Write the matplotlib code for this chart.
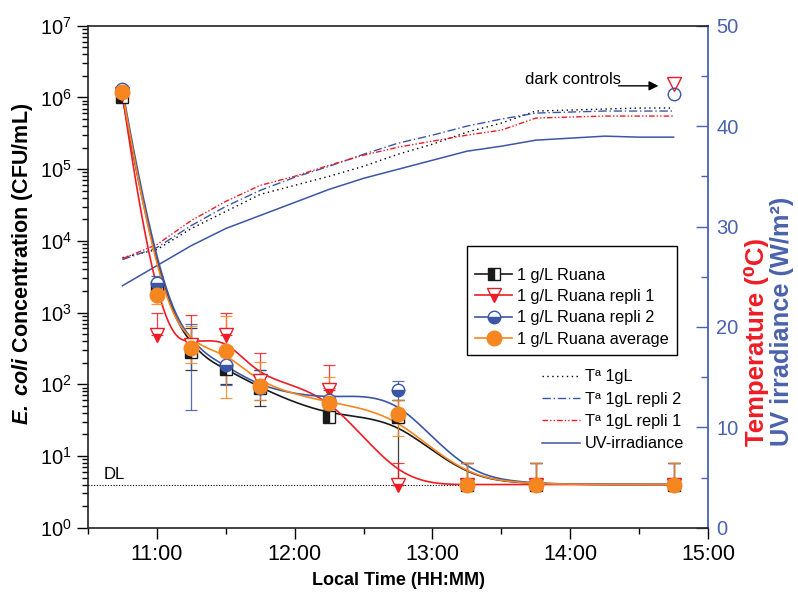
import numpy as np
import matplotlib
matplotlib.use('Agg')
import matplotlib.pyplot as plt
from matplotlib.lines import Line2D
from matplotlib.ticker import FixedLocator, MultipleLocator, LogLocator, NullFormatter

plt.rcParams['font.family'] = ['Liberation Sans', 'DejaVu Sans']
plt.rcParams['mathtext.fontset'] = 'custom'
plt.rcParams['mathtext.rm'] = 'Liberation Sans'
plt.rcParams['mathtext.it'] = 'Liberation Sans:italic'
plt.rcParams['mathtext.bf'] = 'Liberation Sans:bold'
plt.rcParams['mathtext.bfit'] = 'Liberation Sans:italic:bold'

# ---------------- data ----------------
times = [10.75, 11.0, 11.25, 11.5, 11.75, 12.25, 12.75, 13.25, 13.75, 14.75]

ruana = [1.0e6, 2300, 280, 165, 88, 35, 35, 4, 4, 4]
ruana_lo = [0.9e6, 2000, 160, 100, 50, 30, 4, 4, 4, 4]
ruana_hi = [1.15e6, 2600, 600, 300, 160, 45, 60, 8, 8, 8]

repl1 = [1.1e6, 490, 350, 485, 110, 83, 4, 4, 4, 4]
repl1_lo = [1.1e6, 490, 350, 485, 110, 83, 4, 4, 4, 4]
repl1_hi = [1.3e6, 1000, 920, 1000, 275, 186, 8, 8, 8, 8]

repl2 = [1.3e6, 2560, 320, 186, 89, 60, 83, 4, 4, 4]
repl2_lo = [1.15e6, 2200, 44, 97, 60, 45, 60, 4, 4, 4]
repl2_hi = [1.45e6, 3200, 700, 300, 160, 90, 112, 8, 8, 8]

average = [1.2e6, 1780, 318, 295, 95, 55, 39, 4, 4, 4]
average_lo = [1.1e6, 1300, 200, 64, 60, 35, 19, 4, 4, 4]
average_hi = [1.3e6, 2300, 650, 900, 207, 126, 60, 8, 8, 8]

dark_time = [14.75]
dark_repl1 = [1.55e6]
dark_repl2 = [1.12e6]

detection_limit = 4

t_times = [10.75, 11.0, 11.25, 11.5, 11.75, 12.0, 12.25, 12.5, 12.75, 13.0,
           13.25, 13.5, 13.75, 14.0, 14.25, 14.5, 14.75]
temp_1gL = [26.9, 27.7, 29.8, 31.5, 33.2, 34.1, 35.0, 36.0, 37.2, 38.2,
            39.4, 40.3, 41.5, 41.6, 41.7, 41.8, 41.8]
temp_repl2 = [26.7, 27.9, 30.1, 32.0, 33.6, 34.9, 36.0, 37.2, 38.3, 39.1,
              40.0, 40.7, 41.3, 41.4, 41.5, 41.5, 41.5]
temp_repl1 = [26.8, 28.2, 30.6, 32.5, 34.1, 35.0, 36.1, 37.1, 37.9, 38.5,
              39.1, 39.6, 40.8, 40.9, 41.0, 41.0, 41.0]
uv_irr = [24.1, 26.1, 28.1, 29.8, 31.1, 32.4, 33.7, 34.8, 35.7, 36.6,
          37.5, 38.0, 38.6, 38.8, 39.0, 38.9, 38.9]

xtick_hours = [11, 12, 13, 14, 15]
xtick_labels = ['11:00', '12:00', '13:00', '14:00', '15:00']

# ---------------- colors ----------------
C_BLACK = '#1a1a1a'
C_RED = '#ee1c25'
C_BLUE = '#3b56a6'
C_ORANGE = '#f6861f'
C_AXBLUE = '#4a62ae'


def bspline(xs, ys, n=500):
    """Clamped uniform cubic B-spline using the points as control points."""
    P = np.column_stack([xs, ys]).astype(float)
    k = 3
    m = len(P)
    knots = np.concatenate([[0] * k, np.arange(m - k + 1), [m - k] * k]).astype(float)
    u = np.linspace(0, m - k, n)
    u[-1] -= 1e-9
    B = np.zeros((n, len(knots) - 1))
    for i in range(len(knots) - 1):
        B[:, i] = (u >= knots[i]) & (u < knots[i + 1])
    for p in range(1, k + 1):
        Bn = np.zeros((n, len(knots) - 1 - p))
        for i in range(len(knots) - 1 - p):
            d1 = knots[i + p] - knots[i]
            d2 = knots[i + p + 1] - knots[i + 1]
            t1 = (u - knots[i]) / d1 * B[:, i] if d1 > 0 else 0
            t2 = (knots[i + p + 1] - u) / d2 * B[:, i + 1] if d2 > 0 else 0
            Bn[:, i] = t1 + t2
        B = Bn
    C = B @ P
    return C[:, 0], C[:, 1]


fig = plt.figure(figsize=(7.98, 5.95), dpi=100)
ax = fig.add_axes([0.1103, 0.1131, 0.777, 0.8437])
ax2 = ax.twinx()
ax.set_zorder(ax2.get_zorder() + 1)
ax.patch.set_visible(False)

LS_DOT = (0, (1, 2.5))
LS_DASHDOT = (0, (6, 2, 1, 2))
LS_DASHDOTDOT = (0, (4, 1.5, 1, 1.5, 1, 1.5))

# ---- right axis: temperature and UV ----
ax2.plot(t_times, temp_1gL, color='k', lw=1.0, ls=LS_DOT)
ax2.plot(t_times, temp_repl2, color=C_BLUE, lw=1.0, ls=LS_DASHDOT)
ax2.plot(t_times, temp_repl1, color=C_RED, lw=1.0, ls=LS_DASHDOTDOT)
ax2.plot(t_times, uv_irr, color=C_BLUE, lw=1.1)
ax2.set_ylim(0, 50)
ax2.yaxis.set_major_locator(MultipleLocator(10))
ax2.yaxis.set_minor_locator(MultipleLocator(5))
ax2.tick_params(axis='y', which='major', direction='in', length=9, width=1,
                color=C_AXBLUE, labelcolor=C_AXBLUE, labelsize=14.5, pad=6)
ax2.tick_params(axis='y', which='minor', direction='in', length=5, width=1, color=C_AXBLUE)
for s in ['left', 'top', 'bottom']:
    ax2.spines[s].set_visible(False)
ax2.spines['right'].set_color(C_AXBLUE)
ax2.spines['right'].set_linewidth(1.3)

# ---- left axis: E. coli ----
ax.set_yscale('log')
ax.set_ylim(1, 1e7)
ax.set_xlim(10.5, 15)

ax.plot([10.5, 13.25], [detection_limit, detection_limit], color='k', lw=0.8,
        ls=(0, (1, 1.5)), zorder=1)
ax.text(10.61, 4.4, 'DL', fontsize=12, ha='left', va='bottom')

series = [
    (ruana, ruana_lo, ruana_hi, C_BLACK, dict(marker='s', markersize=8, fillstyle='left',
                                              markerfacecolor=C_BLACK, markerfacecoloralt='white',
                                              markeredgecolor=C_BLACK, markeredgewidth=1.0)),
    (repl1, repl1_lo, repl1_hi, C_RED, dict(marker='v', markersize=10, fillstyle='bottom',
                                            markerfacecolor=C_RED, markerfacecoloralt='white',
                                            markeredgecolor=C_RED, markeredgewidth=1.0)),
    (repl2, repl2_lo, repl2_hi, C_BLUE, dict(marker='o', markersize=9, fillstyle='bottom',
                                             markerfacecolor=C_BLUE, markerfacecoloralt='white',
                                             markeredgecolor=C_BLUE, markeredgewidth=1.0)),
    (average, average_lo, average_hi, C_ORANGE, dict(marker='o', markersize=10.5,
                                                     markerfacecolor=C_ORANGE,
                                                     markeredgecolor=C_ORANGE)),
]
labels = ['1 g/L Ruana', '1 g/L Ruana repli 1', '1 g/L Ruana repli 2', '1 g/L Ruana average']

handles1 = []
for z, ((vals, lo, hi, col, mk), lab) in enumerate(zip(series, labels)):
    vals = np.array(vals, float)
    lo = np.array(lo, float)
    hi = np.array(hi, float)
    bx, by = bspline(times, np.log10(vals))
    ax.plot(bx, 10 ** by, color=col, lw=1.2, zorder=3 + z)
    ax.errorbar(times, vals, yerr=[vals - lo, hi - vals], fmt='none', ecolor=col,
                elinewidth=0.9, capsize=4, capthick=0.9, zorder=3 + z, alpha=0.85)
    ax.plot(times, vals, ls='none', zorder=10 + z, **mk)
    handles1.append(Line2D([], [], color=col, lw=1.2, **mk))

# dark controls
ax.plot(dark_time, dark_repl1, ls='none', marker='v', markersize=10, markerfacecolor='none',
        markeredgecolor=C_RED, markeredgewidth=1.0, zorder=12)
ax.plot(dark_time, dark_repl2, ls='none', marker='o', markersize=9, markerfacecolor='none',
        markeredgecolor=C_BLUE, markeredgewidth=1.0, zorder=12)
ax.annotate('', xy=(14.66, 1.45e6), xytext=(14.33, 1.45e6),
            arrowprops=dict(arrowstyle='-|>', color='k', lw=1.0, mutation_scale=14))
ax.text(13.67, 1.75e6, 'dark controls', fontsize=12, ha='left', va='center')

# axes styling
ax.xaxis.set_major_locator(FixedLocator(xtick_hours))
ax.set_xticklabels(xtick_labels)
ax.xaxis.set_minor_locator(MultipleLocator(0.5))
ax.yaxis.set_major_locator(LogLocator(base=10, numticks=10))
ax.yaxis.set_minor_locator(LogLocator(base=10, subs=np.arange(2, 10), numticks=20))
ax.yaxis.set_minor_formatter(NullFormatter())
ax.tick_params(axis='both', which='major', direction='out', length=8, width=1, labelsize=14.5)
ax.tick_params(axis='x', which='major', labelsize=15.5, pad=4)
ax.tick_params(axis='both', which='minor', direction='out', length=4.5, width=1)
ax.spines['right'].set_visible(False)
for s in ['left', 'top', 'bottom']:
    ax.spines[s].set_linewidth(1.2)
    ax.spines[s].set_color('#222222')

ax.set_xlabel('Local Time (HH:MM)', fontsize=13, fontweight='bold', labelpad=5)
ax.set_ylabel(r'$\mathbfit{E.\ coli}$ Concentration (CFU/mL)', fontsize=15.5,
              fontweight='bold')
ax.yaxis.set_label_coords(-0.086, 0.525)

fig.text(0.9486, 0.2504, 'Temperature (\u2070C)', color=C_RED, fontsize=18.5,
         fontweight='bold', rotation=90, ha='center', va='bottom')
fig.text(0.980, 0.2504, 'UV irradiance (W/m\u00b2)', color=C_AXBLUE, fontsize=18.3,
         fontweight='bold', rotation=90, ha='center', va='bottom')

# legends
leg1 = ax.legend(handles1, labels, loc='upper left', bbox_to_anchor=(0.611, 0.561),
                 fontsize=11.7, frameon=True, fancybox=False, edgecolor='k',
                 framealpha=1, numpoints=1, handlelength=2.3, handletextpad=0.3,
                 labelspacing=0.39, borderpad=0.5, borderaxespad=0,
                 title=' ', title_fontsize=5)
leg1.get_frame().set_linewidth(1.0)
ax.add_artist(leg1)

handles2 = [
    Line2D([], [], color='k', lw=1.0, ls=LS_DOT),
    Line2D([], [], color=C_BLUE, lw=1.0, ls=LS_DASHDOT),
    Line2D([], [], color=C_RED, lw=1.0, ls=LS_DASHDOTDOT),
    Line2D([], [], color=C_BLUE, lw=1.1),
]
labels2 = ['T\u00aa 1gL', 'T\u00aa 1gL repli 2', 'T\u00aa 1gL repli 1', 'UV-irradiance']
leg2 = ax.legend(handles2, labels2, loc='upper left', bbox_to_anchor=(0.725, 0.325),
                 fontsize=11.7, frameon=False, handlelength=2.3, handletextpad=0.3,
                 labelspacing=0.45, borderpad=0.3, borderaxespad=0)

fig.savefig('out.png', dpi=100)
